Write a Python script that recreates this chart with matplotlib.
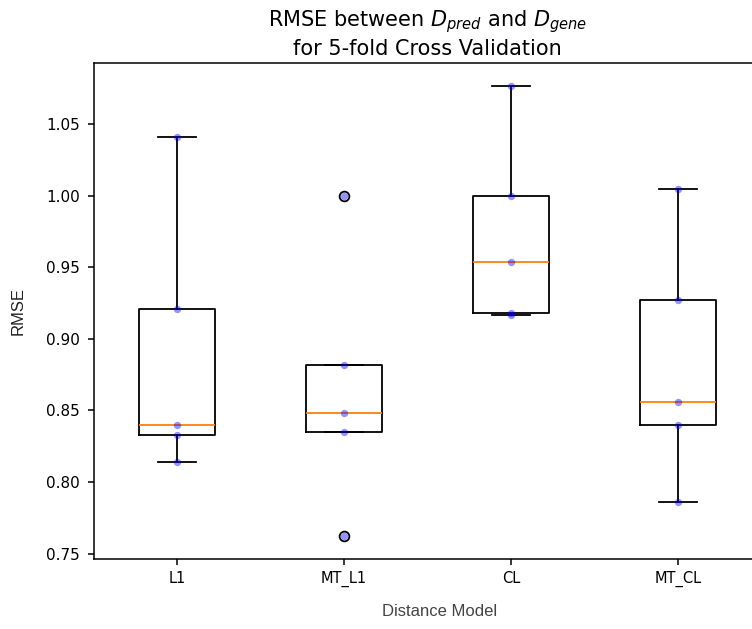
"""RMSE between predicted and gene distances across 5 CV folds, per distance model."""

import matplotlib
matplotlib.use("Agg")
import matplotlib.pyplot as plt
import numpy as np


models = ["L1", "MT_L1", "CL", "MT_CL"]

# per-fold RMSE for each distance model
rmse_l1 = [1.041, 0.921, 0.840, 0.833, 0.814]
rmse_mt_l1 = [1.000, 0.882, 0.848, 0.835, 0.762]
rmse_cl = [1.077, 1.000, 0.954, 0.918, 0.917]
rmse_mt_cl = [1.005, 0.927, 0.856, 0.840, 0.786]

folds = [rmse_l1, rmse_mt_l1, rmse_cl, rmse_mt_cl]

fig = plt.figure(figsize=(7.52, 6.29), dpi=100)
ax = fig.add_axes([93.5 / 752, 70 / 629, 668 / 752, 496 / 629])

lw = 1.3
ax.boxplot(folds, labels=models,
           boxprops=dict(linewidth=lw),
           whiskerprops=dict(linewidth=lw),
           capprops=dict(linewidth=lw),
           medianprops=dict(linewidth=lw, color="C1"),
           flierprops=dict(markeredgewidth=lw, markersize=7))

# overlay the individual fold scores
for i, vals in enumerate(folds, start=1):
    ax.scatter(np.full(len(vals), i), vals, color="blue", alpha=0.42, s=28,
               linewidths=0, zorder=3)

for s in ax.spines.values():
    s.set_linewidth(1.1)
ax.tick_params(length=4.2, width=1.1, pad=5.5, labelsize=11)
ax.tick_params(axis="x", labelsize=10.5, pad=4.5)

ax.set_title("RMSE between $D_{pred}$ and $D_{gene}$\nfor 5-fold Cross Validation",
             fontsize=15)
ax.set_xlabel("Distance Model", family="Liberation Sans", fontsize=12,
              color="#444444")
ax.set_ylabel("RMSE", family="Liberation Sans", fontsize=12, color="#222222")
ax.xaxis.set_label_coords(0.518, -0.09)
ax.yaxis.set_label_coords(-0.102, 0.5)

fig.savefig("out.png", dpi=100)
